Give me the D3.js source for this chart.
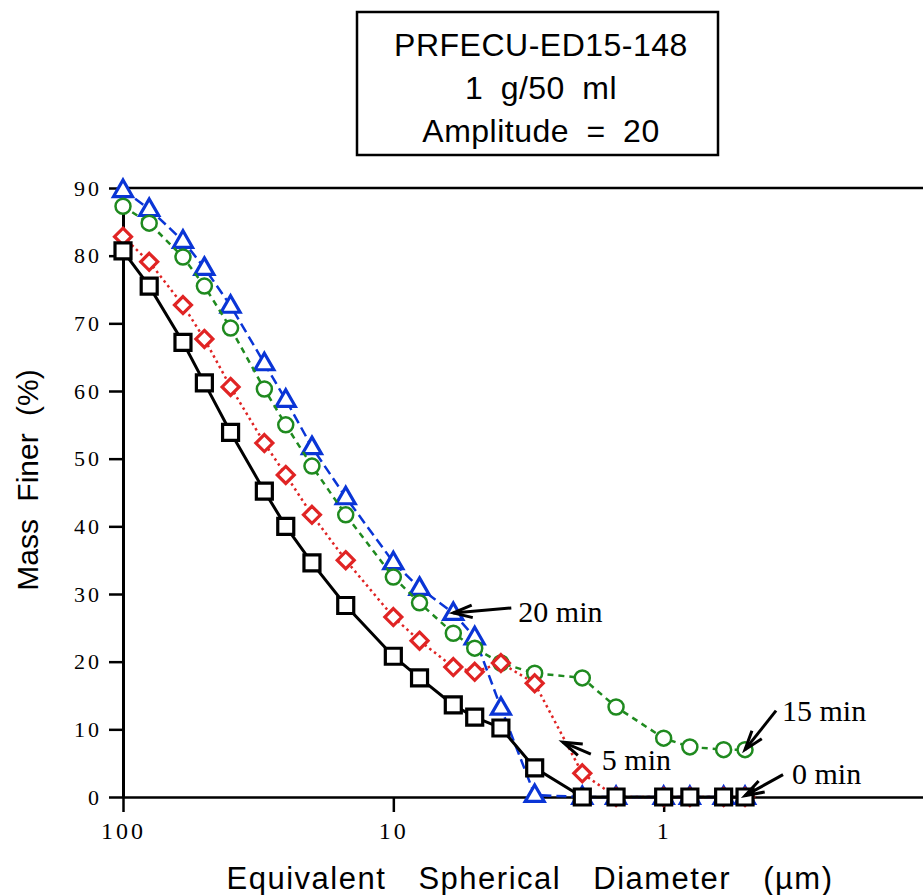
<!DOCTYPE html>
<html>
<head>
<meta charset="utf-8">
<script src="https://cdn.jsdelivr.net/npm/d3@7"></script>
<style>
  body { margin: 0; background: white; }
  svg { display: block; }
</style>
</head>
<body>
<svg id="chart"></svg>
<script>
// Particle size data
const diameters = [100, 80, 60, 50, 40, 30, 25, 20, 15, 10, 8, 6, 5, 4, 3, 2, 1.5, 1, 0.8, 0.6, 0.5];
const finer0min  = [80.7, 75.5, 67.2, 61.2, 53.9, 45.2, 40.0, 34.6, 28.3, 20.8, 17.6, 13.6, 11.8, 10.2, 4.3, 0, 0, 0, 0, 0, 0];
const finer5min  = [82.8, 79.1, 72.7, 67.7, 60.6, 52.3, 47.6, 41.7, 35.0, 26.6, 23.1, 19.2, 18.5, 19.8, 16.8, 3.5, 0, 0, 0, 0, 0];
const finer15min = [87.3, 84.8, 79.8, 75.5, 69.3, 60.3, 55.0, 48.9, 41.7, 32.5, 28.7, 24.2, 22.0, 19.8, 18.3, 17.6, 13.3, 8.7, 7.4, 7.0, 7.0];
const finer20min = [89.7, 86.9, 82.2, 78.2, 72.6, 64.1, 58.7, 51.7, 44.3, 34.7, 30.9, 27.2, 23.6, 13.2, 0.3, 0, 0, 0, 0, 0, 0];

const yTicks = [0, 10, 20, 30, 40, 50, 60, 70, 80, 90];
const xTicks = [100, 10, 1];
const titleLines = ['PRFECU-ED15-148', '1 g/50 ml', 'Amplitude = 20'];

// labels with arrows pointing at a data location
const labels = [
    { text: '20 min', d: 6,    v: 27.2 },
    { text: '5 min',  d: 2.36, v: 8.1 },
    { text: '15 min', d: 0.5,  v: 7.0 },
    { text: '0 min',  d: 0.5,  v: 0.2 }
];

function markerPath(shape) {
    switch (shape) {
        case 'square':   return 'M-8,-8H8V8H-8Z';
        case 'diamond':  return 'M0,-8.5L8.5,0L0,8.5L-8.5,0Z';
        case 'circle':   return 'M7.5,0A7.5,7.5 0 1,1 -7.5,0A7.5,7.5 0 1,1 7.5,0Z';
        case 'triangle': return 'M0,-10L9.5,6.5L-9.5,6.5Z';
    }
}

function createChart() {
    const W = 923, H = 895;
    const margin = { top: 188, left: 123 };
    const width = 811;   // right edge runs past the picture (axis ends at 0.1)
    const height = 609;

    const root = d3.select('#chart')
        .attr('width', W)
        .attr('height', H)
        .style('background-color', 'white');

    const svg = root.append('g')
        .attr('transform', `translate(${margin.left},${margin.top})`);

    const xScale = d3.scaleLog().domain([100, 0.1]).range([0, width]);
    const yScale = d3.scaleLinear().domain([0, 90]).range([height, 0]);

    // frame top
    svg.append('line')
       .attr('x1', 0).attr('x2', width)
       .attr('y1', 0).attr('y2', 0)
       .attr('stroke', 'black').attr('stroke-width', 2.5);

    // X axis
    const xAxis = svg.append('g')
       .attr('transform', `translate(0,${height})`)
       .call(d3.axisBottom(xScale).tickValues(xTicks).tickFormat(d3.format('')).tickSize(15).tickSizeOuter(0).tickPadding(10));
    xAxis.select('.domain').attr('stroke-width', 2.5);
    xAxis.selectAll('.tick line').attr('stroke-width', 2.5);
    xAxis.selectAll('text')
       .style('font-family', '"Liberation Serif", "Times New Roman", serif')
       .style('font-size', '24px')
       .style('letter-spacing', '3px')
       .attr('fill', 'black');

    // Y axis
    const yAxis = svg.append('g')
       .call(d3.axisLeft(yScale).tickValues(yTicks).tickSize(14).tickSizeOuter(0).tickPadding(7));
    yAxis.select('.domain').attr('stroke-width', 3);
    yAxis.selectAll('.tick line').attr('stroke-width', 2.5);
    yAxis.selectAll('text')
       .style('font-family', '"Liberation Serif", "Times New Roman", serif')
       .style('font-size', '22px')
       .style('letter-spacing', '3px')
       .attr('fill', 'black');

    // series, drawn back to front
    const series = [
        { values: finer20min, color: '#0a35d6', dash: '10,5', width: 2.5, shape: 'triangle' },
        { values: finer15min, color: '#1f8a1f', dash: '6,5',  width: 2.5, shape: 'circle' },
        { values: finer5min,  color: '#e02424', dash: '2.5,3.5', width: 2.5, shape: 'diamond' },
        { values: finer0min,  color: '#000000', dash: null,   width: 3,   shape: 'square' }
    ];

    const line = d3.line()
        .x(d => xScale(d[0]))
        .y(d => yScale(d[1]));

    series.forEach(s => {
        const pts = diameters.map((d, i) => [d, s.values[i]]);

        svg.append('path')
           .datum(pts)
           .attr('fill', 'none')
           .attr('stroke', s.color)
           .attr('stroke-width', s.width)
           .attr('stroke-dasharray', s.dash)
           .attr('d', line);

        svg.append('g')
           .selectAll('path')
           .data(pts)
           .enter()
           .append('path')
           .attr('transform', d => `translate(${xScale(d[0])},${yScale(d[1])})`)
           .attr('d', markerPath(s.shape))
           .attr('fill', 'white')
           .attr('stroke', s.color)
           .attr('stroke-width', s.shape === 'circle' ? 2.5 : 3.2);
    });

    // arrow labels
    const offsets = {
        '20 min': { tail: [58, -5],  text: [65, 9] },
        '5 min':  { tail: [28, 12],  text: [39, 28] },
        '15 min': { tail: [31, -39], text: [37, -29] },
        '0 min':  { tail: [38, -21], text: [47, -12] }
    };

    labels.forEach(l => {
        const tx = xScale(l.d), ty = yScale(l.v);
        const o = offsets[l.text];
        const x1 = tx + o.tail[0], y1 = ty + o.tail[1];
        const ang = Math.atan2(ty - y1, tx - x1);
        const hl = 20, spread = 0.32;

        svg.append('line')
           .attr('x1', x1).attr('y1', y1)
           .attr('x2', tx).attr('y2', ty)
           .attr('stroke', 'black').attr('stroke-width', 3);

        svg.append('path')
           .attr('d', `M${tx - hl * Math.cos(ang - spread)},${ty - hl * Math.sin(ang - spread)}L${tx},${ty}L${tx - hl * Math.cos(ang + spread)},${ty - hl * Math.sin(ang + spread)}`)
           .attr('fill', 'none')
           .attr('stroke', 'black')
           .attr('stroke-width', 3);

        svg.append('text')
           .attr('x', tx + o.text[0])
           .attr('y', ty + o.text[1])
           .style('font-family', '"Liberation Serif", "Times New Roman", serif')
           .style('font-size', '30px')
           .text(l.text);
    });

    // axis titles
    root.append('text')
        .attr('transform', `translate(38,${480}) rotate(-90)`)
        .style('text-anchor', 'middle')
        .style('font-family', '"Liberation Sans", Arial, sans-serif')
        .style('font-size', '30px')
        .style('word-spacing', '9px')
        .text('Mass Finer (%)');

    root.append('text')
        .attr('x', 530)
        .attr('y', 889)
        .style('text-anchor', 'middle')
        .style('font-family', '"Liberation Sans", Arial, sans-serif')
        .style('font-size', '31px')
        .style('word-spacing', '22px')
        .style('letter-spacing', '1.5px')
        .text('Equivalent Spherical Diameter (\u00b5m)');

    // title box
    root.append('rect')
        .attr('x', 357).attr('y', 12)
        .attr('width', 361).attr('height', 143)
        .attr('fill', 'white')
        .attr('stroke', 'black')
        .attr('stroke-width', 2.5);

    root.append('g')
        .selectAll('text')
        .data(titleLines)
        .enter()
        .append('text')
        .attr('x', 541)
        .attr('y', (d, i) => 56 + i * 43)
        .style('text-anchor', 'middle')
        .style('font-family', '"Liberation Sans", Arial, sans-serif')
        .style('font-size', '32px')
        .style('letter-spacing', '0.5px')
        .style('word-spacing', '8px')
        .text(d => d);
}

document.addEventListener('DOMContentLoaded', () => {
    createChart();
});
</script>
</body>
</html>
